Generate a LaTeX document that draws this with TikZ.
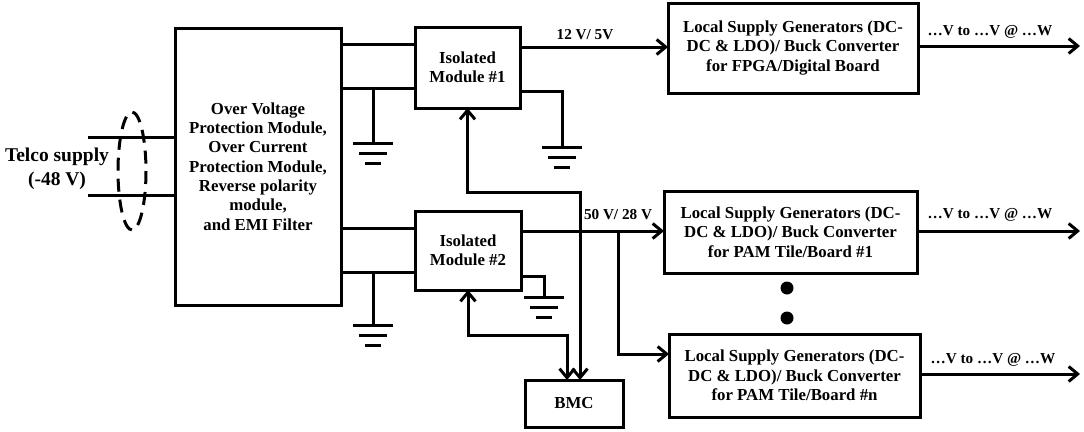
\documentclass[tikz,border=0pt]{standalone}
\usepackage{fontspec}
\setmainfont{Liberation Serif}
\usetikzlibrary{arrows.meta}
\tikzset{
    block/.style = {
        draw,
        align          = center,
        font           = \bfseries\fontsize{16.8}{19.3}\selectfont,
    },
    lbl/.style = {
        align          = center,
        font           = \bfseries\fontsize{15.2}{17}\selectfont,
    },
    barb/.tip = {Straight Barb[length=9pt, width=15pt]},
    arr/.style = {-barb},
    dbl/.style = {barb-barb},
    earth/.pic = {
        \draw (-20,0) -- (20,0) (-14,10) -- (14,10) (-8,20) -- (8,20);
    },
}

\begin{document}
\begin{tikzpicture}[x=1pt, y=-1pt, line width=3pt, every node/.style = {outer sep = 0pt, inner sep = 1pt}]
        \useasboundingbox (0,0) rectangle (1084,431);

        \node (prot) [block, minimum width=166pt, minimum height=277pt] at (258,166.5) {Over Voltage\\Protection Module,\\Over Current\\Protection Module,\\Reverse polarity\\module,\\and EMI Filter};
        \node (mod1) [block, minimum width=105pt, minimum height=81pt] at (467.5,67.5) {Isolated\\Module \#1};
        \node (mod2) [block, minimum width=106pt, minimum height=79pt] at (468,250.5) {Isolated\\Module \#2};
        \node (bmc) [block, minimum width=98pt, minimum height=47pt] at (574,403.5) {BMC};
        \node (fpga) [block, minimum width=250pt, minimum height=90pt] at (793,48) {Local Supply Generators (DC-\\DC \& LDO)/ Buck Converter\\for FPGA/Digital Board};
        \node (pam1) [block, minimum width=253pt, minimum height=82pt] at (790.5,232) {Local Supply Generators (DC-\\DC \& LDO)/ Buck Converter\\for PAM Tile/Board \#1};
        \node (pamn) [block, minimum width=251pt, minimum height=83pt] at (794.5,375.5) {Local Supply Generators (DC-\\DC \& LDO)/ Buck Converter\\for PAM Tile/Board \#n};

        \node (telco) [align=center, font=\bfseries\fontsize{19.5}{24}\selectfont] at (57,169) {Telco supply\\(-48 V)};
        \coordinate (inp) at (88,137);
        \coordinate (inn) at (88,195);
        \draw (inp) -- (inp -| prot.west)  (inn) -- (inn -| prot.west);
        \draw [dashed, dash pattern=on 13pt off 8pt] (132,171) ellipse (14 and 59);

        \coordinate (a1) at (341,44);
        \coordinate (a2) at (341,88);
        \coordinate (b1) at (341,228);
        \coordinate (b2) at (341,272);
        \draw (a1) -- (a1 -| mod1.west)  (a2) -- (a2 -| mod1.west);
        \draw (b1) -- (b1 -| mod2.west)  (b2) -- (b2 -| mod2.west);
        \draw (373,88) -- (373,143) pic {earth};
        \draw (373,272) -- (373,325) pic {earth};

        \coordinate (g1) at (562,147);
        \coordinate (g2) at (544,297);
        \draw (mod1.east |- 0,91) -| (g1) pic {earth};
        \draw (mod2.east |- 0,276) -| (g2) pic {earth};

        \coordinate (o1) at (520,47);
        \draw [arr] (o1) -- (o1 -| fpga.west);
        \node (v12) [lbl] at (585,35) {12 V/ 5V};

        \coordinate (o2) at (521,231);
        \coordinate (tap) at (618,231);
        \coordinate (o3) at (618,354);
        \draw [arr] (o2) -- (o2 -| pam1.west);
        \draw [arr] (tap) -- (o3) -- (o3 -| pamn.west);
        \node (v50) [lbl] at (618,215) {50 V/ 28 V};

        \coordinate (c1) at (580,192);
        \coordinate (c2) at (567,335);
        \draw [dbl] (mod1.south) |- (c1) -- (c1 |- bmc.north);
        \draw [dbl] (mod2.south) |- (c2) -- (c2 |- bmc.north);

        \fill (787,288) circle (6.5) (787,318) circle (6.5);

        \coordinate (e1) at (1080,46);
        \coordinate (e2) at (1080,231);
        \coordinate (e3) at (1080,374);
        \draw [arr] (fpga.east |- e1) -- (e1);
        \draw [arr] (pam1.east |- e2) -- (e2);
        \draw [arr] (pamn.east |- e3) -- (e3);
        \node (w1) [lbl] at (990,32) {…V to …V @ …W};
        \node (w2) [lbl] at (990,215) {…V to …V @ …W};
        \node (w3) [lbl] at (993,360) {…V to …V @ …W};

    \end{tikzpicture}
\end{document}
